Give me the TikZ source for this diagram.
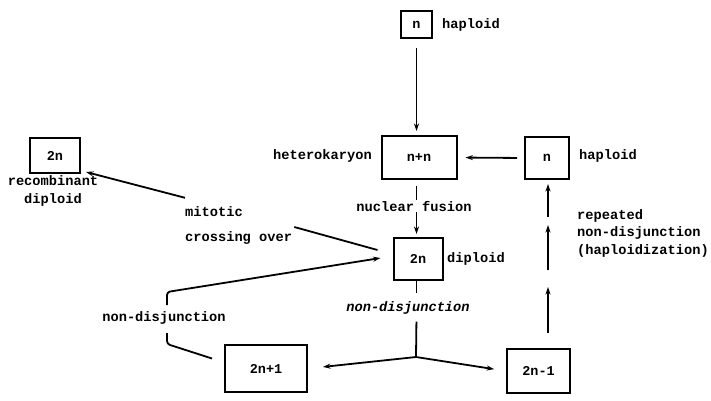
\documentclass[tikz,border=0pt]{standalone}
\usepackage{fontspec}
\setmainfont{Liberation Mono}
\usetikzlibrary{arrows.meta,calc}
\begin{document}
\begin{tikzpicture}[x=1pt,y=-1pt,
  box/.style={draw,line width=2pt,inner sep=0pt,font=\fontsize{13.5}{16}\selectfont\bfseries},
  lab/.style={inner sep=1pt,font=\fontsize{13.7}{17.5}\selectfont\bfseries},
  conn/.style={line width=1.8pt},
  arr/.style={conn,-{Stealth[length=7.5pt,width=5pt]}}]
\path[use as bounding box] (0,0) rectangle (711,400);
% boxes
\node[box,minimum width=31pt,minimum height=27pt] (nt) at (416.5,24.5) {n};
\node[box,minimum width=75pt,minimum height=43pt] (nn) at (419,157.5) {n+n};
\node[box,minimum width=44pt,minimum height=42pt] (nr) at (547,158) {n};
\node[box,minimum width=49pt,minimum height=42pt] (dp) at (418,259) {2n};
\node[box,minimum width=82pt,minimum height=47pt] (p1) at (266,368.5) {2n+1};
\node[box,minimum width=63pt,minimum height=44pt] (m1) at (538.5,371) {2n-1};
\node[box,minimum width=50pt,minimum height=35pt] (rc) at (55,155.5) {2n};
% labels
\node[lab,anchor=west] (ht) at (441,25) {haploid};
\node[lab,anchor=east] (hk) at (373,156) {heterokaryon};
\node[lab,anchor=west] (hr) at (578,156) {haploid};
\node[lab,anchor=west] (dl) at (446,259) {diploid};
\node[lab,align=center] (rcl) at (53,191) {recombinant\\diploid};
\node[lab,anchor=west] (mi) at (184,212) {mitotic};
\node[lab,anchor=west] (co) at (184,238) {crossing over};
\node[lab] (nf) at (414,206) {nuclear fusion};
\node[lab,font=\fontsize{13.7}{17.5}\selectfont\bfseries\itshape] (nd) at (408,308) {non-disjunction};
\node[lab] (nl) at (164,318) {non-disjunction};
\node[lab,anchor=west,align=left] (rp) at (576,233) {repeated\\non-disjunction\\(haploidization)};
% coordinates
\coordinate (j) at (416,357);
\coordinate (v1) at (548,333);
\coordinate (v2) at (548,287);
\coordinate (v3) at (548,270);
\coordinate (v4) at (548,225);
\coordinate (v5) at (548,217);
\coordinate (bl) at (167,344);
\coordinate (bu) at (167,292);
% connectors
\draw[arr,shorten <=9pt,shorten >=4pt] (nt.south) -- (nt.south |- nn.north);
\draw[arr,shorten <=7pt,shorten >=8pt] (nr.west) -- (nn.west -| nn.east);
\draw[conn,shorten <=6pt] (nt.south |- nn.south) -- (nt.south |- nf.north);
\draw[arr,shorten >=3pt] (nt.south |- nf.south) -- (nt.south |- dp.north);
\draw[conn,shorten >=7pt] (nt.south |- dp.south) -- (nt.south |- nd.north);
\draw[conn,shorten <=6pt] (nt.south |- nd.south) -- (j);
\draw[arr,shorten >=15pt] (j) -- (p1.east);
\draw[arr,shorten >=12pt] (j) -- (m1.west);
\draw[arr] (v1) -- (v2);
\draw[arr] (v3) -- (v4);
\draw[arr,shorten >=4pt] (v5) -- (v5 |- nr.south);
\draw[conn,rounded corners=3pt] ([shift={(-12,-10)}]p1.west) -- (bl) -- ++(0,-11);
\draw[arr,rounded corners=3pt] ([shift={(0,13)}]bu) -- (bu) -- ([shift={(-12,-1)}]dp.west);
\draw[conn] ([shift={(1,-11)}]co.east) -- ([shift={(-15,-9)}]dp.west);
\draw[arr] ([shift={(1,-8)}]mi.north west) -- ([shift={(5,-2)}]rc.south east);
\end{tikzpicture}
\end{document}
